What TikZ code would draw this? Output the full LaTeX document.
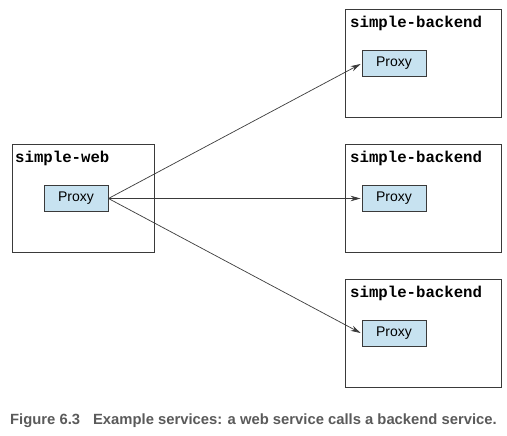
\documentclass[tikz,border=0pt]{standalone}
\usepackage{fontspec}
\setmainfont{Liberation Sans}
\newfontfamily\monob{Liberation Mono}
\usetikzlibrary{arrows.meta}
\definecolor{proxyfill}{HTML}{C7E2F0}
\definecolor{framecol}{HTML}{3A3A3A}
\definecolor{capcol}{HTML}{5A5A5A}
\tikzset{
  svcbox/.style={draw=framecol, line width=0.9pt, fill=white},
  proxybox/.style={draw=framecol, line width=0.9pt, fill=proxyfill, minimum width=64pt, minimum height=26pt, inner sep=0pt, font=\fontsize{14}{16}\selectfont},
  svclabel/.style={anchor=base west, inner sep=0pt, font=\monob\bfseries\fontsize{15.7}{17}\selectfont},
  call/.style={draw=framecol, line width=0.7pt, -{Stealth[length=10pt, width=5.5pt]}, shorten >=1pt}
}
\begin{document}
\begin{tikzpicture}[x=1pt, y=-1pt]
\useasboundingbox (0,0) rectangle (507,436);
% web
\node[svcbox, minimum width=142pt, minimum height=108pt, anchor=north west, inner sep=0pt] (web) at (12,144) {};
\node[svclabel] (webl) at (15,163) {simple-web};
\node[proxybox] (wp) at (76,198.5) {Proxy};
% backends
\foreach \i/\y in {1/9, 2/144, 3/279}{
  \node[svcbox, minimum width=156pt, minimum height=108pt, anchor=north west, inner sep=0pt] (b\i) at (345,\y) {};
  \node[svclabel] (bl\i) at (350,\y+19) {simple-backend};
  \node[proxybox] (bp\i) at (394,\y+54.5) {Proxy};
}
\draw[call] (wp.east) -- (bp1.west);
\draw[call] (wp.east) -- (bp2.west);
\draw[call] (wp.east) -- (bp3.west);
% caption
\node[anchor=base west, inner sep=0pt, text=capcol, font=\bfseries\fontsize{14.8}{17}\selectfont] (cap) at (10,424) {Figure 6.3\hspace{13pt}Example services: a web service calls a backend service.};
\end{tikzpicture}
\end{document}
